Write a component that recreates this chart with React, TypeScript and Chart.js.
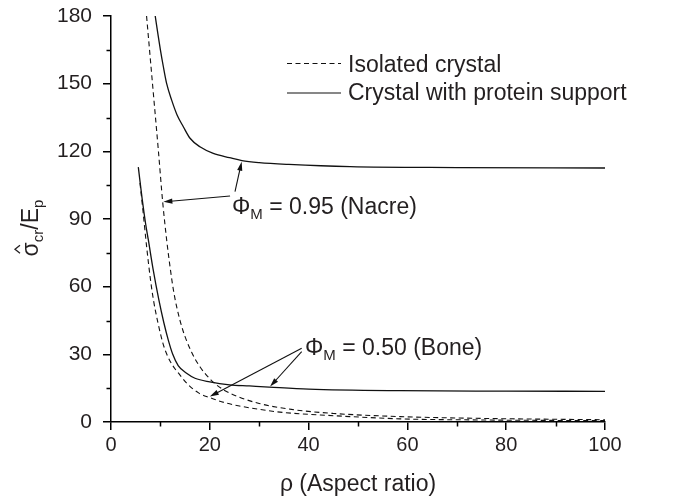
import React, { useEffect, useRef } from "react";
import { Chart, registerables } from "chart.js";

Chart.register(...registerables);

// ---- data ----
const nacreIsolatedRho = [7.2, 8.4, 9.58, 10.46, 11.27, 12.0, 12.6, 13.3, 14.5, 16.3, 18, 20.3, 23, 26, 30, 36.5, 45, 58.5, 75, 100];
const nacreIsolatedVal = [180, 150, 120.6, 97.6, 80.7, 68, 59, 51, 41, 31, 24.5, 18.5, 14, 11, 8.2, 5.6, 3.8, 2.4, 1.6, 1.0];

const nacreProteinRho = [8.95, 9.5, 10, 10.6, 11.27, 12.28, 13.4, 14.64, 16, 18, 20.7, 24, 26.5, 30, 36, 48.4, 70, 100];
const nacreProteinVal = [180, 172, 165, 157.5, 150, 142.7, 136, 130.9, 125.8, 122, 119.1, 117.2, 115.9, 115, 114.2, 113.2, 112.8, 112.6];

const boneIsolatedRho = [5.87, 6.5, 7.2, 8.0, 8.6, 9.5, 10.5, 11.3, 12.5, 13.9, 15.5, 17.8, 20, 23, 26, 30, 35, 45, 58.5, 75, 100];
const boneIsolatedVal = [106, 93, 78, 63, 54, 44, 35, 30, 25, 21, 16.8, 12.8, 10.8, 8.6, 7.1, 5.6, 4.2, 2.8, 1.4, 0.9, 0.6];

const boneProteinRho = [5.53, 6.3, 7.0, 7.56, 8.5, 9.7, 10.7, 11.6, 12.5, 13.6, 15.3, 17, 20, 24, 28, 32, 40, 58.5, 80, 100];
const boneProteinVal = [113, 99, 88, 80.7, 68, 54, 44, 36.3, 30, 25, 21.6, 19.4, 17.8, 16.5, 16, 15.5, 14.6, 13.9, 13.7, 13.6];

const xMin = 0, xMax = 100, xStep = 20;
const yMin = 0, yMax = 180, yStep = 30;
const xMinorTicks = [10, 30, 50, 70, 90];
const yMinorTicks = [15, 45, 75, 105, 135, 165];

const legendLabels = ["Isolated crystal", "Crystal with protein support"];
const xTitle = "\u03C1 (Aspect ratio)";
const nacreLabel = " = 0.95 (Nacre)";
const boneLabel = " = 0.50 (Bone)";

// arrows in data units: [fromRho, fromVal, toRho, toVal]
const arrows: number[][] = [
  [25.1, 102.1, 26.45, 115.4],
  [24.1, 100.2, 10.6, 97.6],
  [38.6, 32.7, 20.0, 11.3],
  [38.6, 31.2, 32.2, 15.7],
];

const FONT = '"Liberation Sans", Arial, Helvetica, sans-serif';
const INK = "#231f20";

function toPoints(xs: number[], ys: number[]) {
  return xs.map((x, i) => ({ x, y: ys[i] }));
}

const overlayPlugin = {
  id: "overlay",
  afterDraw(chart: any) {
    const ctx = chart.ctx as CanvasRenderingContext2D;
    const xs = chart.scales.x;
    const ys = chart.scales.y;
    const area = chart.chartArea;
    ctx.save();
    ctx.strokeStyle = "#000";
    ctx.fillStyle = INK;
    ctx.lineWidth = 1.5;
    // minor ticks
    ctx.beginPath();
    xMinorTicks.forEach((v) => {
      const px = Math.round(xs.getPixelForValue(v)) + 0.5;
      ctx.moveTo(px, area.bottom);
      ctx.lineTo(px, area.bottom + 4.5);
    });
    yMinorTicks.forEach((v) => {
      const py = Math.round(ys.getPixelForValue(v)) + 0.5;
      ctx.moveTo(area.left, py);
      ctx.lineTo(area.left - 4.5, py);
    });
    ctx.stroke();

    // legend
    ctx.lineWidth = 1.1;
    ctx.strokeStyle = "#111";
    ctx.setLineDash([5, 3.5]);
    ctx.beginPath();
    ctx.moveTo(287, 63.5);
    ctx.lineTo(341, 63.5);
    ctx.stroke();
    ctx.setLineDash([]);
    ctx.beginPath();
    ctx.moveTo(287, 93);
    ctx.lineTo(341, 93);
    ctx.stroke();
    ctx.font = `23px ${FONT}`;
    ctx.textBaseline = "alphabetic";
    ctx.textAlign = "left";
    ctx.fillText(legendLabels[0], 348, 72);
    ctx.fillText(legendLabels[1], 348, 100);

    // annotation labels
    const drawPhi = (x: number, base: number, rest: string) => {
      ctx.font = `23px ${FONT}`;
      ctx.fillText("\u03A6", x, base);
      let cx = x + ctx.measureText("\u03A6").width;
      ctx.font = `15px ${FONT}`;
      ctx.fillText("M", cx, base + 5);
      cx += ctx.measureText("M").width;
      ctx.font = `23px ${FONT}`;
      ctx.fillText(rest, cx, base);
    };
    drawPhi(232, 214, nacreLabel);
    drawPhi(305, 355, boneLabel);

    // arrows
    ctx.lineWidth = 1.1;
    ctx.strokeStyle = "#111";
    ctx.fillStyle = "#111";
    arrows.forEach(([x0, y0, x1, y1]) => {
      const ax = xs.getPixelForValue(x0), ay = ys.getPixelForValue(y0);
      const bx = xs.getPixelForValue(x1), by = ys.getPixelForValue(y1);
      const ang = Math.atan2(by - ay, bx - ax);
      const L = 9, W = 2.6;
      ctx.beginPath();
      ctx.moveTo(ax, ay);
      ctx.lineTo(bx - Math.cos(ang) * L * 0.8, by - Math.sin(ang) * L * 0.8);
      ctx.stroke();
      ctx.beginPath();
      ctx.moveTo(bx, by);
      ctx.lineTo(bx - Math.cos(ang) * L - Math.sin(ang) * W, by - Math.sin(ang) * L + Math.cos(ang) * W);
      ctx.lineTo(bx - Math.cos(ang) * L + Math.sin(ang) * W, by - Math.sin(ang) * L - Math.cos(ang) * W);
      ctx.closePath();
      ctx.fill();
    });

    // x title
    ctx.fillStyle = INK;
    ctx.font = `23px ${FONT}`;
    ctx.textAlign = "center";
    ctx.fillText(xTitle, (area.left + area.right) / 2, 491);

    // y title (rotated)
    ctx.save();
    ctx.translate(38, 228);
    ctx.rotate(-Math.PI / 2);
    ctx.textAlign = "left";
    const parts: [string, number, number][] = [
      ["\u03C3", 23, 0],
      ["cr", 15, 5],
      ["/", 23, 0],
      ["E", 23, 0],
      ["p", 15, 5],
    ];
    let total = 0;
    parts.forEach(([t, s]) => {
      ctx.font = `${s}px ${FONT}`;
      total += ctx.measureText(t).width;
    });
    let u = -total / 2;
    let sigmaMid = 0;
    parts.forEach(([t, s, off], i) => {
      ctx.font = `${s}px ${FONT}`;
      const w = ctx.measureText(t).width;
      if (i === 0) sigmaMid = u + w / 2;
      ctx.fillText(t, u, off);
      u += w;
    });
    // hat over sigma
    ctx.lineWidth = 1.3;
    ctx.strokeStyle = INK;
    ctx.beginPath();
    ctx.moveTo(sigmaMid - 4, -18);
    ctx.lineTo(sigmaMid, -23);
    ctx.lineTo(sigmaMid + 4, -18);
    ctx.stroke();
    ctx.restore();

    ctx.restore();
  },
};

export default function App() {
  const canvasRef = useRef<HTMLCanvasElement | null>(null);

  useEffect(() => {
    document.body.style.margin = "0";
    const canvas = canvasRef.current;
    if (!canvas) return;
    const lineBase = {
      fill: false,
      pointRadius: 0,
      cubicInterpolationMode: "monotone" as const,
      borderColor: "#111",
    };
    const chart = new Chart(canvas, {
      type: "line",
      data: {
        datasets: [
          { ...lineBase, label: "Nacre isolated", data: toPoints(nacreIsolatedRho, nacreIsolatedVal), borderDash: [5, 3.5], borderWidth: 1.1 },
          { ...lineBase, label: "Nacre protein", data: toPoints(nacreProteinRho, nacreProteinVal), borderWidth: 1.3 },
          { ...lineBase, label: "Bone isolated", data: toPoints(boneIsolatedRho, boneIsolatedVal), borderDash: [5, 3.5], borderWidth: 1.1 },
          { ...lineBase, label: "Bone protein", data: toPoints(boneProteinRho, boneProteinVal), borderWidth: 1.3 },
        ],
      },
      options: {
        animation: false,
        responsive: true,
        maintainAspectRatio: false,
        layout: { padding: { left: 0, right: 74, top: 16, bottom: 0 } },
        plugins: { legend: { display: false }, tooltip: { enabled: false }, title: { display: false } },
        scales: {
          x: {
            type: "linear",
            min: xMin,
            max: xMax,
            ticks: { stepSize: xStep, color: INK, font: { family: FONT, size: 20 }, padding: 3, maxRotation: 0 },
            grid: { drawOnChartArea: false, drawTicks: true, tickLength: 8, color: "#000", lineWidth: 1.5 },
            border: { display: true, color: "#000", width: 1.5 },
            afterFit: (s: any) => { s.height = 80; s.paddingLeft = 0; s.paddingRight = 0; },
          },
          y: {
            type: "linear",
            min: yMin,
            max: yMax,
            ticks: { stepSize: yStep, color: INK, font: { family: FONT, size: 21 }, padding: 11 },
            grid: { drawOnChartArea: false, drawTicks: true, tickLength: 8, color: "#000", lineWidth: 1.5 },
            border: { display: true, color: "#000", width: 1.5 },
            afterFit: (s: any) => { s.width = 111; s.paddingTop = 0; s.paddingBottom = 0; },
          },
        },
      },
      plugins: [overlayPlugin],
    });
    return () => chart.destroy();
  }, []);

  return (
    <div style={{ position: "absolute", left: 0, top: 0, width: 679, height: 502, background: "#fff" }}>
      <canvas ref={canvasRef} />
    </div>
  );
}
